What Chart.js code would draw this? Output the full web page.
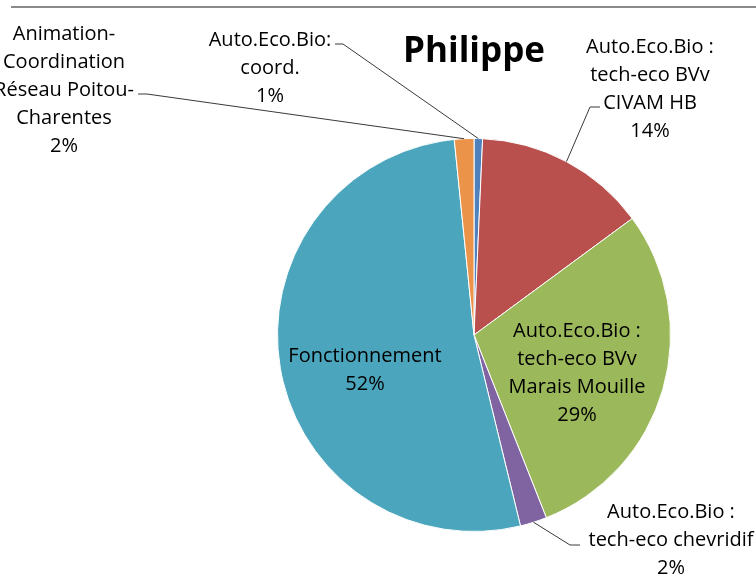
<!DOCTYPE html>
<html>
<head>
<meta charset="utf-8">
<script src="https://cdn.jsdelivr.net/npm/chart.js@4.4.1/dist/chart.umd.min.js"></script>
<style>
  html, body { margin: 0; padding: 0; background: #fff; }
  #wrap { width: 756px; height: 586px; }
</style>
</head>
<body>
<div id="wrap"><canvas id="myChart" width="756" height="586"></canvas></div>
<script>
// data (percent of total, clockwise from 12 o'clock)
const categories = [
    ['Auto.Eco.Bio:', 'coord.'],
    ['Auto.Eco.Bio :', 'tech-eco BVv', 'CIVAM HB'],
    ['Auto.Eco.Bio :', 'tech-eco BVv', 'Marais Mouille'],
    ['Auto.Eco.Bio :', 'tech-eco chevridif'],
    ['Fonctionnement'],
    ['Animation-', 'Coordination', 'Réseau Poitou-', 'Charentes']
];
const shares = [0.7, 14.2, 29.1, 2.2, 52.2, 1.6];
const sliceColors = ['#4F81BD', '#B9504D', '#9BB85A', '#8064A2', '#4BA5BC', '#EA9349'];

// where each label sits (elbow/end = leader line path, none = inside the slice)
const labelLayout = [
    { x: 270, y: 40, elbow: [343, 44], end: [335, 44] },
    { x: 650, y: 47, elbow: [590, 107], end: [600, 107] },
    { x: 577, y: 331 },
    { x: 671, y: 512, elbow: [570, 545], end: [580, 545] },
    { x: 365, y: 356 },
    { x: 64, y: 34, elbow: [147, 94], end: [138, 94] }
];

const labelFont = '20px "Open Sans", sans-serif';
const lineH = 28;

const topRule = {
    id: 'topRule',
    beforeDraw(chart) {
        const ctx = chart.ctx;
        ctx.save();
        ctx.fillStyle = '#fff';
        ctx.fillRect(0, 0, chart.width, chart.height);
        ctx.strokeStyle = '#898989';
        ctx.lineWidth = 2;
        ctx.beginPath();
        ctx.moveTo(11, 7);
        ctx.lineTo(chart.width, 7);
        ctx.stroke();
        ctx.restore();
    }
};

const sliceLabels = {
    id: 'sliceLabels',
    afterDatasetsDraw(chart) {
        const ctx = chart.ctx;
        const arcs = chart.getDatasetMeta(0).data;
        ctx.save();
        arcs.forEach((arc, i) => {
            const lay = labelLayout[i];
            const p = arc.getProps(['x', 'y', 'startAngle', 'endAngle', 'outerRadius'], true);
            const mid = (p.startAngle + p.endAngle) / 2;
            if (lay.elbow) {
                ctx.strokeStyle = '#3a3a3a';
                ctx.lineWidth = 1;
                ctx.beginPath();
                ctx.moveTo(p.x + Math.cos(mid) * p.outerRadius, p.y + Math.sin(mid) * p.outerRadius);
                ctx.lineTo(lay.elbow[0], lay.elbow[1]);
                ctx.lineTo(lay.end[0], lay.end[1]);
                ctx.stroke();
            }
            const lines = categories[i].concat([Math.round(shares[i]) + '%']);
            ctx.fillStyle = '#000';
            ctx.font = labelFont;
            ctx.textAlign = 'center';
            ctx.textBaseline = 'middle';
            lines.forEach((t, k) => ctx.fillText(t, lay.x, lay.y + k * lineH));
        });
        ctx.restore();
    }
};

const ctx = document.getElementById('myChart').getContext('2d');
new Chart(ctx, {
    type: 'pie',
    data: {
        labels: categories,
        datasets: [{
            data: shares,
            backgroundColor: sliceColors,
            borderColor: '#ffffff',
            borderWidth: 1
        }]
    },
    options: {
        responsive: false,
        animation: false,
        layout: { padding: { left: 277, right: 85, top: 31, bottom: 54 } },
        plugins: {
            legend: { display: false },
            tooltip: { enabled: false },
            title: {
                display: true,
                text: 'Philippe',
                color: '#000',
                font: { family: '"Open Sans", sans-serif', size: 35, weight: 'bold' },
                padding: { top: 0, bottom: 65 }
            }
        }
    },
    plugins: [topRule, sliceLabels]
});
</script>
</body>
</html>
